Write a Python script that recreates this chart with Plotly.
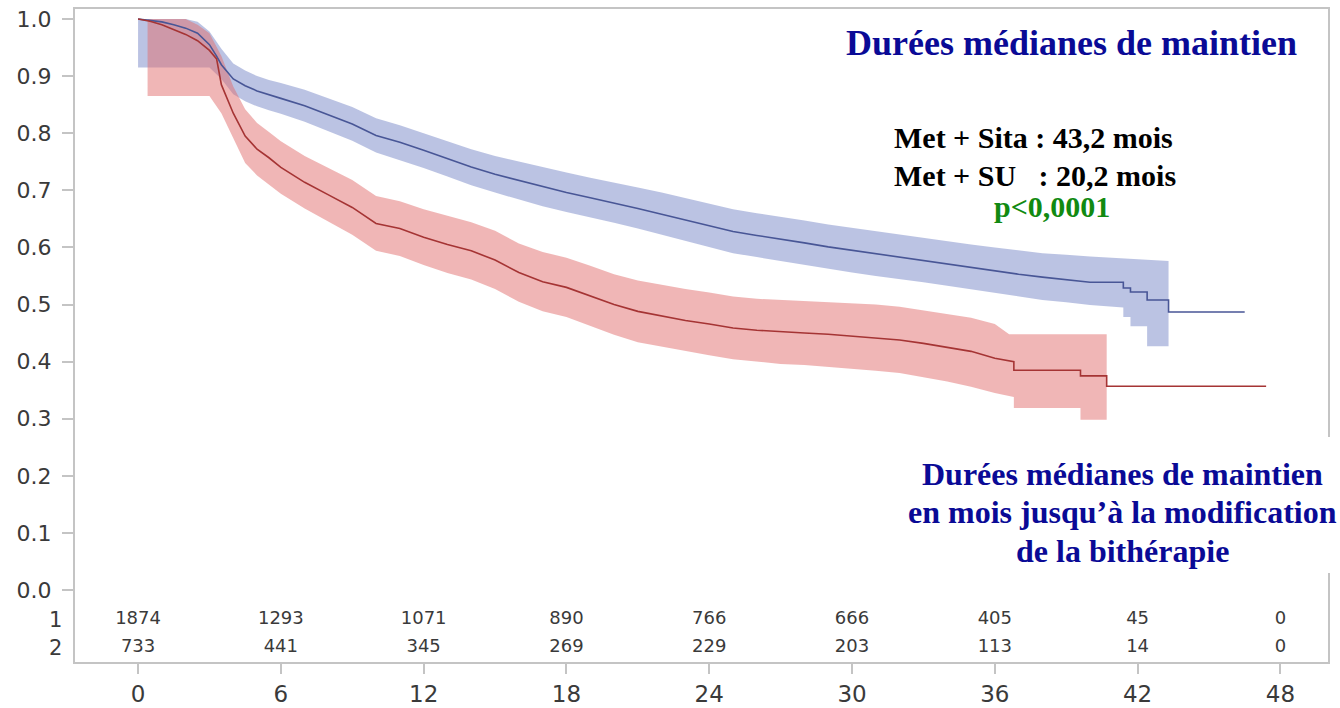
import plotly.graph_objects as go

# ---------------- data ----------------
months_ticks = [0, 6, 12, 18, 24, 30, 36, 42, 48]
y_ticks = [0.0, 0.1, 0.2, 0.3, 0.4, 0.5, 0.6, 0.7, 0.8, 0.9, 1.0]

risk_sita = [1874, 1293, 1071, 890, 766, 666, 405, 45, 0]
risk_su = [733, 441, 345, 269, 229, 203, 113, 14, 0]

# Met + Sita (blue) – survival estimate
t_sita = [0, 0.5, 1, 1.5, 2, 2.5, 3, 3.3, 3.5, 4, 4.5, 5, 5.5, 6, 7, 8, 9, 10, 11, 12, 13, 14,
          15, 16, 17, 18, 19, 20, 21, 22, 23, 24, 25, 26, 27, 28, 29, 30, 31, 32, 33, 34, 35,
          36, 37, 38, 39, 40, 41.4, 41.4, 41.7, 41.7, 42.4, 42.4, 43.3, 43.3, 46.5]
s_sita = [1.0, 0.998, 0.995, 0.99, 0.984, 0.975, 0.955, 0.935, 0.92, 0.895, 0.883, 0.874,
          0.867, 0.861, 0.848, 0.832, 0.816, 0.796, 0.784, 0.77, 0.755, 0.741, 0.728, 0.717,
          0.706, 0.696, 0.687, 0.678, 0.668, 0.658, 0.648, 0.638, 0.628, 0.621, 0.615, 0.608,
          0.601, 0.595, 0.589, 0.582, 0.577, 0.571, 0.565, 0.559, 0.553, 0.548, 0.544, 0.539,
          0.539, 0.529, 0.529, 0.522, 0.522, 0.508, 0.508, 0.487, 0.487]
# Met + Sita confidence band
t_sita_up = [0, 2, 2.5, 3, 3.5, 4, 4.5, 5, 5.5, 6, 7, 8, 9, 10, 11, 12, 13, 14, 15, 16, 17, 18,
             19, 20, 21, 22, 23, 24, 25, 26, 27, 28, 29, 30, 31, 32, 33, 34, 35, 36, 37, 38, 39,
             40, 43.3]
up_sita = [1.0, 1.0, 0.995, 0.978, 0.948, 0.922, 0.91, 0.9, 0.893, 0.888, 0.876, 0.861, 0.846,
           0.826, 0.814, 0.8, 0.786, 0.772, 0.76, 0.75, 0.74, 0.731, 0.722, 0.714, 0.705, 0.696,
           0.686, 0.677, 0.667, 0.66, 0.654, 0.647, 0.64, 0.634, 0.628, 0.622, 0.616, 0.611,
           0.605, 0.6, 0.595, 0.59, 0.587, 0.584, 0.576]
t_sita_lo = [0, 3, 3.5, 4, 4.5, 5, 5.5, 6, 7, 8, 9, 10, 11, 12, 13, 14, 15, 16, 17, 18, 19, 20,
             21, 22, 23, 24, 25, 26, 27, 28, 29, 30, 31, 32, 33, 34, 35, 36, 37, 38, 39, 40,
             41.4, 41.4, 41.7, 41.7, 42.4, 42.4, 43.3]
lo_sita = [0.915, 0.915, 0.895, 0.868, 0.856, 0.847, 0.84, 0.834, 0.82, 0.804, 0.787, 0.766,
           0.753, 0.739, 0.724, 0.709, 0.696, 0.684, 0.672, 0.662, 0.653, 0.643, 0.633, 0.622,
           0.612, 0.601, 0.59, 0.583, 0.576, 0.569, 0.562, 0.556, 0.55, 0.545, 0.539, 0.533,
           0.527, 0.521, 0.514, 0.508, 0.504, 0.499, 0.495, 0.478, 0.478, 0.462, 0.462, 0.427,
           0.427]

# Met + SU (red) – survival estimate
t_su = [0, 0.5, 1, 1.5, 2, 2.5, 3, 3.3, 3.5, 4, 4.5, 5, 5.5, 6, 7, 8, 9, 10, 11, 12, 13, 14,
        15, 16, 17, 18, 19, 20, 21, 22, 23, 24, 25, 26, 27, 28, 29, 30, 31, 32, 33, 34, 35, 36,
        36.8, 36.8, 39.6, 39.6, 40.7, 40.7, 47.4]
s_su = [1.0, 0.996, 0.99, 0.982, 0.973, 0.962, 0.945, 0.93, 0.885, 0.835, 0.795, 0.772, 0.757,
        0.74, 0.714, 0.692, 0.67, 0.642, 0.633, 0.618, 0.605, 0.594, 0.578, 0.556, 0.54, 0.53,
        0.515, 0.5, 0.488, 0.48, 0.472, 0.466, 0.459, 0.455, 0.452, 0.45, 0.448, 0.445, 0.442,
        0.438, 0.432, 0.425, 0.418, 0.406, 0.4, 0.385, 0.385, 0.375, 0.375, 0.357, 0.357]
# Met + SU confidence band
t_su_up = [0.4, 2, 2.5, 3, 3.5, 4, 4.5, 5, 5.5, 6, 7, 8, 9, 10, 11, 12, 13, 14, 15, 16, 17, 18,
           19, 20, 21, 22, 23, 24, 25, 26, 27, 28, 29, 30, 31, 32, 33, 34, 35, 36, 36.6, 40.7]
up_su = [1.0, 1.0, 0.99, 0.975, 0.935, 0.882, 0.842, 0.818, 0.802, 0.786, 0.76, 0.739, 0.718,
         0.69, 0.681, 0.667, 0.655, 0.644, 0.629, 0.607, 0.592, 0.582, 0.568, 0.553, 0.542,
         0.534, 0.527, 0.521, 0.514, 0.51, 0.508, 0.506, 0.505, 0.503, 0.5, 0.496, 0.49, 0.484,
         0.477, 0.466, 0.448, 0.448]
t_su_lo = [0.4, 3, 3.5, 4, 4.5, 5, 5.5, 6, 7, 8, 9, 10, 11, 12, 13, 14, 15, 16, 17, 18, 19, 20,
           21, 22, 23, 24, 25, 26, 27, 28, 29, 30, 31, 32, 33, 34, 35, 36, 36.8, 36.8, 39.6,
           39.6, 40.7]
lo_su = [0.865, 0.865, 0.835, 0.79, 0.748, 0.726, 0.71, 0.694, 0.668, 0.645, 0.622, 0.594,
         0.585, 0.569, 0.555, 0.544, 0.527, 0.505, 0.488, 0.478, 0.462, 0.447, 0.434, 0.426,
         0.418, 0.411, 0.404, 0.4, 0.396, 0.394, 0.391, 0.388, 0.384, 0.38, 0.373, 0.365,
         0.356, 0.345, 0.338, 0.319, 0.319, 0.298, 0.298]

# ---------------- styles ----------------
BLUE_LINE = "rgb(72,86,150)"
RED_LINE = "rgb(165,52,52)"
BLUE_BAND = "rgba(120,135,200,0.5)"
RED_BAND = "rgba(226,110,110,0.5)"
AXIS = "#c4c4c4"
TXT = "#3a3a3a"
NAVY = "#0a0a96"

fig = go.Figure()

# bands
fig.add_trace(go.Scatter(x=t_sita_lo, y=lo_sita, mode="lines", line=dict(width=0),
                         hoverinfo="skip", showlegend=False))
fig.add_trace(go.Scatter(x=t_sita_up, y=up_sita, mode="lines", line=dict(width=0),
                         fill="tonexty", fillcolor=BLUE_BAND, hoverinfo="skip", showlegend=False))
fig.add_trace(go.Scatter(x=t_su_lo, y=lo_su, mode="lines", line=dict(width=0),
                         hoverinfo="skip", showlegend=False))
fig.add_trace(go.Scatter(x=t_su_up, y=up_su, mode="lines", line=dict(width=0),
                         fill="tonexty", fillcolor=RED_BAND, hoverinfo="skip", showlegend=False))
# curves
fig.add_trace(go.Scatter(x=t_sita, y=s_sita, mode="lines", name="Met + Sita",
                         line=dict(color=BLUE_LINE, width=1.6), showlegend=False))
fig.add_trace(go.Scatter(x=t_su, y=s_su, mode="lines", name="Met + SU",
                         line=dict(color=RED_LINE, width=1.6), showlegend=False))

# risk table
ROW1, ROW2 = -0.052, -0.101
fig.add_trace(go.Scatter(x=months_ticks, y=[ROW1] * len(risk_sita), mode="text",
                         text=[str(v) for v in risk_sita], showlegend=False, hoverinfo="skip",
                         textfont=dict(family="DejaVu Sans", size=18, color=TXT)))
fig.add_trace(go.Scatter(x=months_ticks, y=[ROW2] * len(risk_su), mode="text",
                         text=[str(v) for v in risk_su], showlegend=False, hoverinfo="skip",
                         textfont=dict(family="DejaVu Sans", size=18, color=TXT)))

L, R, T, B = 75, 12, 9, 46
W, H = 1340, 708
pw, ph = W - L - R, H - T - B


def px(x):
    return (x - L) / pw


def py(y):
    return (H - B - y) / ph


ann = []
serif = "Liberation Serif, Times New Roman, serif"
ann.append(dict(text="<b>Durées médianes de maintien</b>", x=px(1071), y=py(43), xref="paper",
                yref="paper", showarrow=False, xanchor="center", yanchor="middle",
                font=dict(family=serif, size=36, color=NAVY)))
ann.append(dict(text="<b>Met + Sita : 43,2 mois</b>", x=px(892), y=py(137), xref="paper",
                yref="paper", showarrow=False, xanchor="left", yanchor="middle",
                font=dict(family=serif, size=30, color="black")))
ann.append(dict(text="<b>Met + SU\u00a0\u00a0\u00a0: 20,2 mois</b>", x=px(892), y=py(175),
                xref="paper", yref="paper", showarrow=False, xanchor="left", yanchor="middle",
                font=dict(family=serif, size=30, color="black")))
ann.append(dict(text="<b>p<0,0001</b>", x=px(1052), y=py(207), xref="paper", yref="paper",
                showarrow=False, xanchor="center", yanchor="middle",
                font=dict(family=serif, size=30, color="#118a11")))
for txt, yy in [("Durées médianes de maintien", 474), ("en mois jusqu’à la modification", 512),
                ("de la bithérapie", 551)]:
    ann.append(dict(text="<b>" + txt + "</b>", x=px(1122), y=py(yy), xref="paper", yref="paper",
                    showarrow=False, xanchor="center", yanchor="middle",
                    font=dict(family=serif, size=32, color=NAVY)))
# risk table row labels
for lab, yy in [("1", 620), ("2", 648)]:
    ann.append(dict(text=lab, x=px(64), y=py(yy), xref="paper", yref="paper", showarrow=False,
                    xanchor="right", yanchor="middle",
                    font=dict(family="DejaVu Sans", size=21, color=TXT)))

fig.update_layout(
    width=W, height=H,
    margin=dict(l=L, r=R, t=T, b=B, pad=0, autoexpand=False),
    paper_bgcolor="white", plot_bgcolor="white",
    annotations=ann,
    shapes=[dict(type="rect", xref="paper", yref="paper", x0=px(1318), x1=px(1338),
                 y0=py(573), y1=py(437), fillcolor="white", line=dict(width=0), layer="above")],
    showlegend=False,
)
fig.update_xaxes(range=[-2.65, 50], tickvals=months_ticks, ticktext=[str(v) for v in months_ticks],
                 showgrid=False, zeroline=False, showline=True, linecolor=AXIS, linewidth=2,
                 mirror=True, ticks="outside", ticklen=10, tickwidth=2, tickcolor=AXIS,
                 automargin=False,
                 tickfont=dict(family="DejaVu Sans", size=23, color=TXT))
fig.update_yaxes(range=[-0.126, 1.0175], tickvals=y_ticks, ticktext=[f"{v:.1f}" for v in y_ticks],
                 showgrid=False, zeroline=False, showline=True, linecolor=AXIS, linewidth=2,
                 mirror=True, ticks="outside", ticklen=11, tickwidth=2, tickcolor=AXIS,
                 ticklabelstandoff=6, automargin=False,
                 tickfont=dict(family="DejaVu Sans", size=22, color=TXT))

fig.write_html("out.html", config={"displayModeBar": False},
               post_script="document.body.style.margin='0px';")
